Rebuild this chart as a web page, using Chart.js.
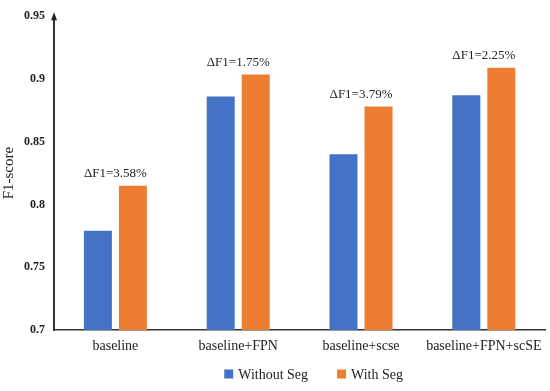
<!DOCTYPE html>
<html><head><meta charset="utf-8">
<script src="https://cdn.jsdelivr.net/npm/chart.js@4.4.1/dist/chart.umd.min.js"></script>
<style>html,body{margin:0;padding:0;background:#fff}#wrap{width:550px;height:391px}</style>
</head><body><div id="wrap"><canvas id="c" width="550" height="391"></canvas></div>
<script>
const categories = ["baseline", "baseline+FPN", "baseline+scse", "baseline+FPN+scSE"];
const withoutSeg = [0.779, 0.886, 0.840, 0.887];
const withSeg = [0.815, 0.9035, 0.878, 0.909];
const deltaLabels = ["\u0394F1=3.58%", "\u0394F1=1.75%", "\u0394F1=3.79%", "\u0394F1=2.25%"];
const yTickLabels = ["0.7", "0.75", "0.8", "0.85", "0.9", "0.95"];
const seriesNames = ["Without Seg", "With Seg"];

const SERIF = "'Liberation Serif', 'DejaVu Serif', serif";

const extras = {
  id: 'extras',
  afterDatasetsDraw(chart) {
    const ctx = chart.ctx;
    const y = chart.scales.y;
    const meta1 = chart.getDatasetMeta(1);
    const meta0 = chart.getDatasetMeta(0);
    ctx.save();
    ctx.font = "13px " + SERIF;
    ctx.fillStyle = "#222";
    ctx.textAlign = "center";
    ctx.textBaseline = "alphabetic";
    deltaLabels.forEach((t, i) => {
      const b0 = meta0.data[i], b1 = meta1.data[i];
      const cx = (b0.x + b1.x) / 2;
      ctx.fillText(t, cx, b1.y - 9);
    });
    // arrow at top of y axis
    const ax = chart.chartArea.left;
    const ty = y.getPixelForValue(y.max);
    ctx.fillStyle = "#222";
    ctx.beginPath();
    ctx.moveTo(ax, ty - 4);
    ctx.lineTo(ax - 3, ty + 4);
    ctx.lineTo(ax + 3, ty + 4);
    ctx.closePath();
    ctx.fill();

    // legend (below x axis labels)
    const ca = chart.chartArea;
    ctx.font = "14px " + SERIF;
    ctx.textAlign = "left";
    ctx.textBaseline = "middle";
    const box = 9, gapText = 5, gapItem = 29;
    const items = chart.data.datasets.map(d => ({ text: d.label, color: d.backgroundColor, w: box + gapText + ctx.measureText(d.label).width }));
    const total = items.reduce((s, it) => s + it.w, 0) + gapItem * (items.length - 1);
    let x = (ca.left + ca.right) / 2 + 14 - total / 2;
    const ly = ca.bottom + 44;
    items.forEach(it => {
      ctx.fillStyle = it.color;
      ctx.fillRect(x, ly - box / 2, box, box);
      ctx.fillStyle = "#222";
      ctx.fillText(it.text, x + box + gapText, ly + 1);
      x += it.w + gapItem;
    });
    ctx.restore();
  }
};

new Chart(document.getElementById('c'), {
  type: 'bar',
  data: {
    labels: categories,
    datasets: [
      { label: seriesNames[0], data: withoutSeg, backgroundColor: '#4472C4', barPercentage: 0.8, categoryPercentage: 0.57 },
      { label: seriesNames[1], data: withSeg, backgroundColor: '#ED7D31', barPercentage: 0.8, categoryPercentage: 0.57 }
    ]
  },
  options: {
    responsive: false,
    animation: false,
    layout: { padding: { top: 13, right: 4, left: 0, bottom: 33 } },
    plugins: {
      legend: { display: false },
      tooltip: { enabled: false }
    },
    scales: {
      x: {
        grid: { display: false, drawTicks: false },
        border: { display: true, color: '#333', width: 1.5 },
        ticks: { color: '#222', font: { family: SERIF, size: 14 }, padding: 8 },
        afterFit(s) { s.height = 28; }
      },
      y: {
        min: 0.7, max: 0.95,
        grid: { display: false, drawTicks: false },
        border: { display: true, color: '#333', width: 2 },
        ticks: {
          stepSize: 0.05, color: '#222', padding: 9,
          font: { family: SERIF, size: 12, weight: 'bold' },
          callback: (v, i) => yTickLabels[i]
        },
        title: { display: true, text: 'F1-score', color: '#222', font: { family: SERIF, size: 15 }, padding: 0 },
        afterFit(s) { s.width = 54; }
      }
    }
  },
  plugins: [extras]
});
</script></body></html>
